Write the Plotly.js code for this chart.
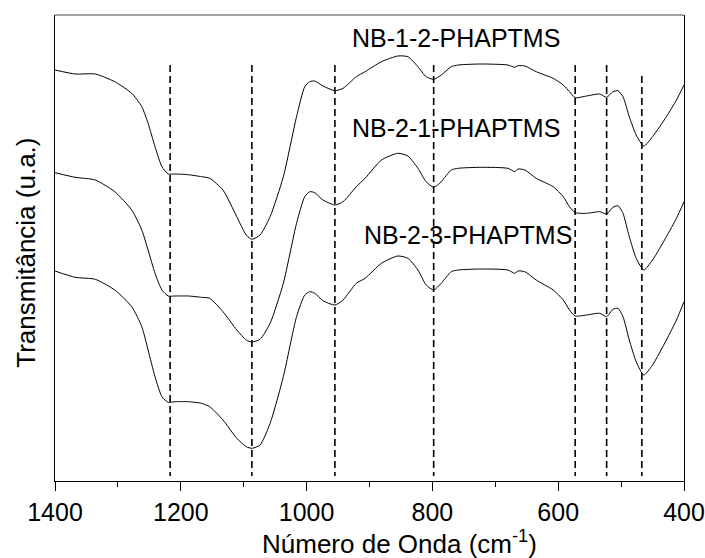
<!DOCTYPE html>
<html>
<head>
<meta charset="utf-8">
<script src="https://cdn.plot.ly/plotly-3.0.1.min.js"></script>
<style>
html,body{margin:0;padding:0;background:#fff;}
#chart{width:705px;height:558px;}
</style>
</head>
<body>
<div id="chart"></div>
<script>
// Wavenumber (cm^-1)
const wavenumber = [1400,1368,1336,1305,1278,1262,1252,1241,1230,1220,1209,1188,1167,1154,1133,1111,1096,1087,1074,1058,1037,1016,1003,995,987,974,955,942,921,907,881,855,839,823,810,798,786,770,759,722,680,669,664,653,635,608,592,582,573,555,534,523,513,505,497,487,476,464,450,428,412,400];

// Transmittance (arbitrary units, stacked)
const nb12 = [411,407,407,399.3,387.7,374.3,357.7,334.3,314.3,307,307,306.3,304.3,302.7,291,264.3,246,241.7,246,264.3,304.3,364.3,394.3,399.3,400,395,390.3,392.7,404.3,409.3,419.3,425,424.3,414.3,404.3,401.7,406,414.3,416,417,416,413.7,415.3,415,409.3,402.7,396,389.3,383.3,385,387,383.7,389.3,390.3,384.3,364.3,346,335,344.3,364.3,381,396];
const nb21 = [308.3,303.7,301,289.3,271,251,231,207.7,191,185,185,185,183.7,182.7,169.3,151,141,139,141.7,157.7,197.7,257.7,284.3,289.3,288.3,281,276,279.3,294.3,302.7,321,327.7,325,312.7,299.3,293.7,299.3,311,312.7,313.7,312.7,309.3,312,311,302.7,294.3,284.3,274.3,268.3,267.7,269.3,267,273.7,275.3,267.7,244.3,222.7,211,221,244.3,262.7,279.3];
const nb23 = [210,203.7,201.7,191,174.3,154.3,131,104.3,84.3,78.7,79.3,79.3,77.7,74.3,61,42.7,34.3,32.7,36,57.7,104.3,164.3,186,189.3,187.7,180.3,176,181,197.7,202.7,217.7,225,222.7,211,196,191,197.7,209.3,211,212,211,207.7,210,209.3,201,191,181,171,165,166,167.7,164.3,171.7,172.7,164.3,141,119.3,106,116,141,161,179.3];

// Band positions (dashed reference lines)
const bands = [1217,1087,955,798,573,523,467];
const bandTop = [416,416,416,416,416,416,405];
const bandBottom = 5;

const seriesNames = ["NB-1-2-PHAPTMS","NB-2-1-PHAPTMS","NB-2-3-PHAPTMS"];
const labelX = [763,763,743];
const labelY = [443,353,246];

const font = "Liberation Sans, Arial, Helvetica, sans-serif";

const dx = [], dy = [];
bands.forEach((b,i)=>{ dx.push(b,b,null); dy.push(bandTop[i],bandBottom,null); });

const curveStyle = {color:"#000", width:1, shape:"spline", smoothing:0.6};
const traces = [
  {x:dx, y:dy, mode:"lines", line:{color:"#000", width:1.6, dash:"7px,4px"}, hoverinfo:"skip"},
  {x:wavenumber, y:nb12, mode:"lines", name:seriesNames[0], line:curveStyle},
  {x:wavenumber, y:nb21, mode:"lines", name:seriesNames[1], line:curveStyle},
  {x:wavenumber, y:nb23, mode:"lines", name:seriesNames[2], line:curveStyle}
];

const annotations = seriesNames.map((n,i)=>({
  x:labelX[i], y:labelY[i], xref:"x", yref:"y", text:n, showarrow:false,
  xanchor:"center", yanchor:"middle", font:{family:font, size:25, color:"#000"}
}));
annotations.push({
  xref:"paper", yref:"paper", x:0.548, y:-0.133, text:"Número de Onda (cm<sup>-1</sup>)",
  showarrow:false, xanchor:"center", yanchor:"middle", font:{family:font, size:26, color:"#000"}
});
annotations.push({
  xref:"paper", yref:"paper", x:-0.046, y:0.49, text:"Transmitância (u.a.)", textangle:-90,
  showarrow:false, xanchor:"center", yanchor:"middle", font:{family:font, size:26, color:"#000"}
});

const layout = {
  width:705, height:558,
  margin:{l:55, r:20.5, t:15, b:77, pad:0},
  paper_bgcolor:"#fff", plot_bgcolor:"#fff",
  showlegend:false,
  font:{family:font, color:"#000"},
  xaxis:{
    range:[1400,400], tickmode:"linear", tick0:400, dtick:200,
    ticks:"outside", ticklen:9, tickwidth:1, tickcolor:"#000",
    minor:{dtick:100, tick0:400, ticks:"outside", ticklen:5, tickwidth:1, tickcolor:"#000"},
    showline:true, linecolor:"#000", linewidth:1.2, mirror:false,
    showgrid:false, zeroline:false,
    tickfont:{family:font, size:25, color:"#000"}
  },
  yaxis:{
    range:[0,466], showticklabels:false, ticks:"",
    showline:true, linecolor:"#000", linewidth:1.2, mirror:true,
    showgrid:false, zeroline:false
  },
  shapes:[{type:"line", xref:"paper", yref:"paper", x0:0, x1:1, y0:1, y1:1, line:{color:"#808080", width:1.5}}],
  annotations:annotations
};

Plotly.newPlot("chart", traces, layout, {displayModeBar:false, staticPlot:true});
</script>
</body>
</html>
